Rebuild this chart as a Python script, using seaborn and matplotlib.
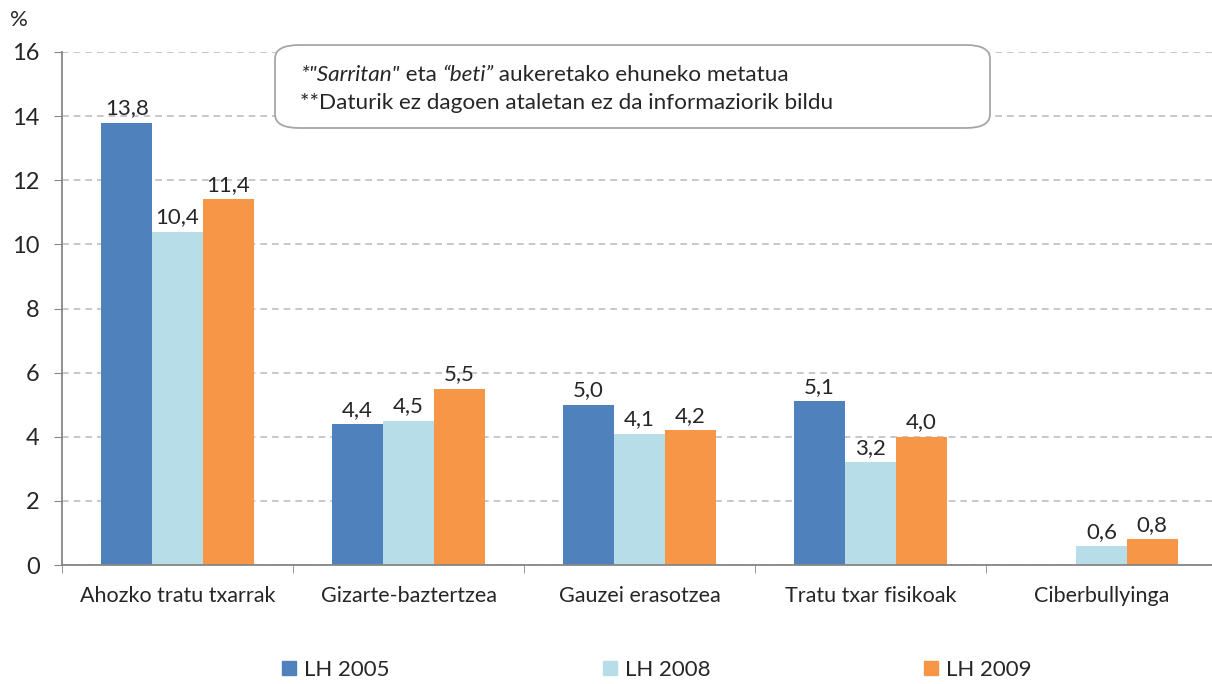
import matplotlib
matplotlib.use('Agg')
import matplotlib.pyplot as plt
from matplotlib.patches import FancyBboxPatch
from matplotlib.lines import Line2D
import numpy as np
import pandas as pd
import seaborn as sns

# Data
categories = ['Ahozko tratu txarrak', 'Gizarte-baztertzea', 'Gauzei erasotzea',
              'Tratu txar fisikoak', 'Ciberbullyinga']
series = ['LH 2005', 'LH 2008', 'LH 2009']
lh2005 = [13.8, 4.4, 5.0, 5.1, np.nan]
lh2008 = [10.4, 4.5, 4.1, 3.2, 0.6]
lh2009 = [11.4, 5.5, 4.2, 4.0, 0.8]
colors = ['#4F81BD', '#B7DEE8', '#F79646']

rows = []
for name, vals in zip(series, [lh2005, lh2008, lh2009]):
    for cat, v in zip(categories, vals):
        rows.append({'cat': cat, 'serie': name, 'val': v})
df = pd.DataFrame(rows)

sns.set_style('white')
plt.rcParams['font.family'] = ['Lato', 'DejaVu Sans']

W, H = 1212, 684
fig = plt.figure(figsize=(W / 100, H / 100), dpi=100)
ax = fig.add_axes([62 / W, 1 - 565 / H, 1155 / W, 513 / H])

BAR_W = 0.66
sns.barplot(data=df, x='cat', y='val', hue='serie', order=categories,
            hue_order=series, palette=colors, width=BAR_W, saturation=1,
            ax=ax, legend=False, linewidth=0, zorder=2)

# value labels
bw = BAR_W / 3
for j, vals in enumerate([lh2005, lh2008, lh2009]):
    for i, v in enumerate(vals):
        if np.isnan(v):
            continue
        xpos = i - BAR_W / 2 + bw * (j + 0.5)
        ax.annotate(f'{v:.1f}'.replace('.', ','), (xpos, v), xytext=(0, 3),
                    textcoords='offset points', ha='center', va='bottom',
                    fontsize=16)

ax.set_ylim(0, 16)
ax.set_xlim(-0.5, len(categories) - 0.5)
ax.set_yticks(range(0, 17, 2))
ax.yaxis.grid(True, color='#BFBFBF', linestyle=(0, (4, 3)), linewidth=1.2)
ax.set_axisbelow(True)
ax.set_xlabel('')
ax.set_ylabel('')
for s in ['top', 'right']:
    ax.spines[s].set_visible(False)
for s in ['left', 'bottom']:
    ax.spines[s].set_color('#868686')
    ax.spines[s].set_linewidth(1.3)
ax.tick_params(axis='y', which='major', length=6, color='#868686', labelsize=17,
               left=True, direction='out', pad=10)
ax.tick_params(axis='x', which='major', length=0, labelsize=15.5, pad=15)
ax.set_xticks(np.arange(-0.5, len(categories) - 0.5, 1), minor=True)
ax.tick_params(axis='x', which='minor', length=6, color='#868686', bottom=True,
               direction='out')

fig.text(10 / W, 1 - 20 / H, '%', fontsize=16, va='center', ha='left')

# note box
box = FancyBboxPatch((275 / W, 1 - 128 / H), 715 / W, 83 / H,
                     boxstyle='round,pad=0,rounding_size=0.02',
                     transform=fig.transFigure, facecolor='white',
                     edgecolor='#A6A6A6', linewidth=1.3, zorder=5)
fig.patches.append(box)

renderer = fig.canvas.get_renderer()


def rich_line(parts, x0, y0):
    x = x0
    for txt, style in parts:
        t = fig.text(x, y0, txt, fontsize=16.2, style=style, va='center',
                     ha='left', zorder=6)
        bb = t.get_window_extent(renderer=renderer)
        x = bb.x1 / fig.bbox.width


rich_line([('*"Sarritan"', 'italic'), (' eta ', 'normal'), ('\u201cbeti\u201d', 'italic'),
           (' aukeretako ehuneko metatua', 'normal')], 300 / W, 1 - 75 / H)
rich_line([('**Daturik ez dagoen ataletan ez da informaziorik bildu', 'normal')],
          300 / W, 1 - 103 / H)

# legend
handles = [Line2D([0], [0], marker='s', linestyle='', markersize=10.5,
                  markerfacecolor=c, markeredgecolor=c) for c in colors]
fig.legend(handles, series, loc='center', bbox_to_anchor=(657 / W, 1 - 670 / H),
           ncol=3, frameon=False, fontsize=16, columnspacing=9.6,
           handletextpad=0.35, handlelength=0.65, borderpad=0, borderaxespad=0)

fig.savefig('out.png', dpi=100)
